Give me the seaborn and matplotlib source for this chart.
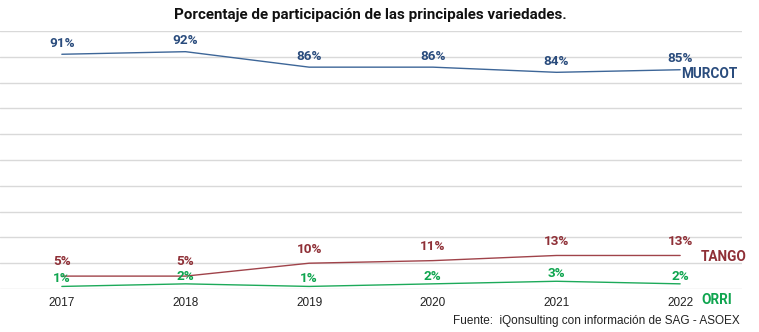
import matplotlib
matplotlib.use("Agg")
import matplotlib.pyplot as plt
import seaborn as sns
import pandas as pd

years = ["2017", "2018", "2019", "2020", "2021", "2022"]
murcot = [91, 92, 86, 86, 84, 85]
tango = [5, 5, 10, 11, 13, 13]
orri = [1, 2, 1, 2, 3, 2]
series_names = ["MURCOT", "TANGO", "ORRI"]
colors = {"MURCOT": "#2A4C7D", "TANGO": "#8F3037", "ORRI": "#0FA54F"}
line_colors = {"MURCOT": "#3D6698", "TANGO": "#A0434A", "ORRI": "#1DAA5A"}
label_offsets = {"MURCOT": 8.0, "TANGO": 10.2, "ORRI": 5.6}

sns.set_theme(style="white")
plt.rcParams['font.family'] = ['Roboto', 'DejaVu Sans']

df = pd.DataFrame({"year": years * 3,
                   "value": murcot + tango + orri,
                   "serie": sum([[n] * len(years) for n in series_names], [])})
df["x"] = list(range(len(years))) * 3

fig = plt.figure(figsize=(7.59, 3.32), dpi=100)
ax = fig.add_axes([0.0, 0.1295, 0.9776, 0.777])

sns.lineplot(data=df, x="x", y="value", hue="serie", palette=line_colors,
             linewidth=1.0, ax=ax, legend=False, sort=False)

ax.set_xlim(-0.5, len(years) - 0.5)
ax.set_ylim(0, 100)
ax.set_yticks(range(0, 101, 10))
ax.set_yticklabels([])
ax.tick_params(axis='y', length=0)
ax.yaxis.grid(True, color="#D9D9D9", linewidth=1.0)
ax.set_axisbelow(True)
for s in ax.spines.values():
    s.set_visible(False)
ax.set_xticks(range(len(years)))
ax.set_xticklabels(years, fontfamily="Liberation Sans", fontsize=8.5, color="#222222")
ax.tick_params(axis='x', length=0, pad=6)
ax.set_xlabel("")
ax.set_ylabel("")

for name, vals in zip(series_names, [murcot, tango, orri]):
    for i, v in enumerate(vals):
        ax.annotate(f"{v}%", (i, v), xytext=(0, label_offsets[name]), textcoords="offset points",
                    ha="center", va="center", fontsize=9.7, fontweight="bold",
                    color=colors[name])

ax.annotate("MURCOT", (5, 85), xytext=(1, -3), textcoords="offset points",
            ha="left", va="center", fontsize=9.8, fontweight="bold", color=colors["MURCOT"],
            annotation_clip=False)
ax.annotate("TANGO", (5, 13), xytext=(15, -1), textcoords="offset points",
            ha="left", va="center", fontsize=9.8, fontweight="bold", color=colors["TANGO"],
            annotation_clip=False)
ax.annotate("ORRI", (5, 0), xytext=(15, -8), textcoords="offset points",
            ha="left", va="center", fontsize=9.8, fontweight="bold", color=colors["ORRI"],
            annotation_clip=False)

fig.text(0.4875, 0.955, "Porcentaje de participación de las principales variedades.",
         ha="center", va="center", fontsize=10.9, fontweight="bold", color="#111111")
fig.text(0.975, 0.032, "Fuente:  iQonsulting con información de SAG - ASOEX",
         ha="right", va="center", fontsize=8.5, fontfamily="Liberation Sans", color="#222222")

fig.savefig("out.png", dpi=100, facecolor="white")
